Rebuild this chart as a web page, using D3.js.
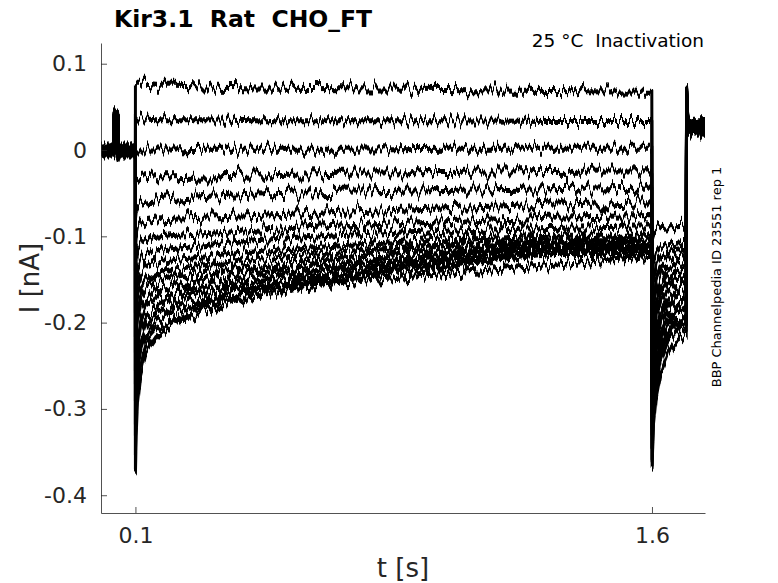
<!DOCTYPE html>
<html>
<head>
<meta charset="utf-8">
<script src="https://cdn.jsdelivr.net/npm/d3@7"></script>
<style>
  body { margin: 0; background: #fff; }
  svg { display: block; font-family: "DejaVu Sans", sans-serif; }
</style>
</head>
<body>
<svg id="chart" width="778" height="583"></svg>
<script>
/* holding segment, same for every sweep (s, nA) */
var preT = [0, 0.038, 0.0385, 0.049, 0.0495, 0.053, 0.0999];
var preI = [0, 0, 0.041, 0.039, -0.006, 0, 0];

/* conditioning step, 18 sweeps */
var stepT = [0.1, 0.102, 0.106, 0.115, 0.13, 0.16, 0.21, 0.3, 0.45, 0.7, 1.0, 1.3, 1.5995];
var sweepStep = [
  [ 0.076,  0.075,  0.075,  0.075,  0.075,  0.074,  0.074,  0.073,  0.072,  0.071,  0.070,  0.069,  0.068],
  [ 0.036,  0.036,  0.036,  0.036,  0.036,  0.035,  0.035,  0.035,  0.034,  0.034,  0.034,  0.033,  0.033],
  [ 0.000,  0.000,  0.000,  0.000,  0.000,  0.000,  0.000,  0.001,  0.001,  0.001,  0.002,  0.002,  0.002],
  [-0.036, -0.035, -0.034, -0.033, -0.032, -0.031, -0.031, -0.030, -0.029, -0.027, -0.026, -0.025, -0.024],
  [-0.075, -0.068, -0.064, -0.061, -0.059, -0.058, -0.056, -0.054, -0.051, -0.049, -0.047, -0.045, -0.043],
  [-0.110, -0.098, -0.090, -0.085, -0.082, -0.080, -0.079, -0.078, -0.076, -0.072, -0.068, -0.064, -0.061],
  [-0.140, -0.125, -0.115, -0.108, -0.104, -0.101, -0.099, -0.097, -0.093, -0.088, -0.083, -0.079, -0.077],
  [-0.170, -0.150, -0.137, -0.127, -0.121, -0.117, -0.114, -0.111, -0.105, -0.099, -0.094, -0.091, -0.089],
  [-0.190, -0.170, -0.155, -0.143, -0.135, -0.130, -0.127, -0.124, -0.118, -0.111, -0.104, -0.100, -0.100],
  [-0.210, -0.188, -0.170, -0.157, -0.148, -0.142, -0.138, -0.133, -0.127, -0.118, -0.109, -0.104, -0.104],
  [-0.230, -0.205, -0.185, -0.170, -0.160, -0.153, -0.148, -0.142, -0.135, -0.125, -0.114, -0.107, -0.107],
  [-0.250, -0.222, -0.200, -0.183, -0.171, -0.163, -0.157, -0.150, -0.142, -0.131, -0.119, -0.110, -0.110],
  [-0.270, -0.240, -0.215, -0.196, -0.182, -0.173, -0.166, -0.157, -0.148, -0.136, -0.123, -0.112, -0.112],
  [-0.290, -0.258, -0.230, -0.209, -0.193, -0.182, -0.174, -0.164, -0.154, -0.140, -0.126, -0.114, -0.114],
  [-0.310, -0.275, -0.245, -0.221, -0.204, -0.192, -0.182, -0.171, -0.159, -0.143, -0.129, -0.116, -0.116],
  [-0.330, -0.292, -0.259, -0.233, -0.214, -0.201, -0.190, -0.177, -0.164, -0.146, -0.132, -0.118, -0.118],
  [-0.350, -0.310, -0.273, -0.245, -0.224, -0.210, -0.197, -0.182, -0.168, -0.149, -0.135, -0.120, -0.120],
  [-0.370, -0.330, -0.290, -0.258, -0.234, -0.216, -0.200, -0.185, -0.163, -0.153, -0.143, -0.134, -0.123]
];

/* test step after 1.6 s */
var tailT = [1.6005, 1.604, 1.612, 1.625, 1.645, 1.67, 1.6995];
var sweepTail = [
  [-0.100, -0.095, -0.092, -0.090, -0.089, -0.089, -0.088],
  [-0.150, -0.128, -0.118, -0.113, -0.110, -0.108, -0.107],
  [-0.180, -0.150, -0.133, -0.124, -0.119, -0.116, -0.115],
  [-0.205, -0.170, -0.148, -0.135, -0.128, -0.124, -0.122],
  [-0.225, -0.187, -0.161, -0.146, -0.137, -0.132, -0.130],
  [-0.245, -0.203, -0.174, -0.157, -0.146, -0.140, -0.138],
  [-0.260, -0.217, -0.186, -0.167, -0.155, -0.148, -0.146],
  [-0.275, -0.230, -0.197, -0.177, -0.164, -0.156, -0.153],
  [-0.290, -0.243, -0.208, -0.186, -0.172, -0.163, -0.160],
  [-0.300, -0.254, -0.218, -0.195, -0.180, -0.170, -0.167],
  [-0.310, -0.264, -0.227, -0.203, -0.187, -0.177, -0.173],
  [-0.320, -0.273, -0.236, -0.211, -0.194, -0.183, -0.179],
  [-0.330, -0.282, -0.244, -0.218, -0.200, -0.189, -0.185],
  [-0.338, -0.290, -0.252, -0.225, -0.206, -0.195, -0.191],
  [-0.346, -0.298, -0.259, -0.231, -0.212, -0.200, -0.196],
  [-0.354, -0.305, -0.266, -0.237, -0.217, -0.205, -0.201],
  [-0.362, -0.312, -0.272, -0.243, -0.222, -0.210, -0.206],
  [-0.370, -0.318, -0.285, -0.257, -0.236, -0.222, -0.214]
];

/* back to holding */
var postT = [1.7005, 1.702, 1.706, 1.754];
var postPeak = [0.066, 0.045];
var postLevel = [0.034, 0.032, 0.031, 0.030, 0.029, 0.028, 0.027, 0.027, 0.026,
                 0.025, 0.025, 0.024, 0.024, 0.023, 0.023, 0.022, 0.022, 0.021];

var yTicks = [-0.4, -0.3, -0.2, -0.1, 0, 0.1];
var xTicks = [0.1, 1.6];

var W = 778, H = 583;
var box = { left: 101, top: 43, right: 705, bottom: 513 };
var ink = '#262626';

var svg = d3.select('#chart');
var x = d3.scaleLinear().domain([0, 1.754]).range([box.left, box.right]);
var y = d3.scaleLinear().domain([-0.4206, 0.124]).range([box.bottom, box.top]);

function sweepPoints(i) {
    var pts = [];
    preT.forEach(function (t, k) { pts.push([t, preI[k]]); });
    stepT.forEach(function (t, k) { pts.push([t, sweepStep[i][k]]); });
    tailT.forEach(function (t, k) { pts.push([t, sweepTail[i][k]]); });
    pts.push([postT[0], postPeak[0]]);
    pts.push([postT[1], postPeak[1]]);
    pts.push([postT[2], postLevel[i]]);
    pts.push([postT[3], postLevel[i]]);
    return pts;
}

/* recording noise as a filter, one seed per sweep (vertical shift only) */
var defs = svg.append('defs');
sweepStep.forEach(function (d, i) {
    var f = defs.append('filter')
        .attr('id', 'noise' + i)
        .attr('filterUnits', 'userSpaceOnUse')
        .attr('x', 0).attr('y', 0).attr('width', W).attr('height', H)
        .attr('color-interpolation-filters', 'sRGB');
    f.append('feTurbulence')
        .attr('type', 'fractalNoise')
        .attr('baseFrequency', '0.3 0.008')
        .attr('numOctaves', 2)
        .attr('seed', i * 7 + 3)
        .attr('result', 'turb');
    f.append('feColorMatrix')
        .attr('in', 'turb')
        .attr('type', 'matrix')
        .attr('values', '0 0 0 0 0.5  0 1 0 0 0  0 0 1 0 0  0 0 0 0 1')
        .attr('result', 'map');
    f.append('feDisplacementMap')
        .attr('in', 'SourceGraphic')
        .attr('in2', 'map')
        .attr('scale', 24)
        .attr('xChannelSelector', 'R')
        .attr('yChannelSelector', 'G')
        .attr('result', 'moved');
    f.append('feMorphology')
        .attr('in', 'moved')
        .attr('operator', 'dilate')
        .attr('radius', '0 1');
});

var line = d3.line()
    .x(function (d) { return x(d[0]); })
    .y(function (d) { return y(d[1]); });

svg.append('g').attr('class', 'traces')
    .selectAll('path')
    .data(sweepStep.map(function (d, i) { return sweepPoints(i); }))
    .enter()
    .append('path')
    .attr('d', line)
    .attr('fill', 'none')
    .attr('stroke', '#000')
    .attr('stroke-width', 3)
    .attr('stroke-linejoin', 'round')
    .attr('filter', function (d, i) { return 'url(#noise' + i + ')'; });

/* axes: left and bottom only, ticks pointing in */
function tickLabel(d) {
    return d === 0 ? '0' : d.toFixed(1);
}
var yAxis = d3.axisLeft(y).tickValues(yTicks).tickSizeInner(-6).tickSizeOuter(0).tickPadding(14)
    .tickFormat(tickLabel);
var xAxis = d3.axisBottom(x).tickValues(xTicks).tickSizeInner(-6).tickSizeOuter(0).tickPadding(14)
    .tickFormat(tickLabel);

var gy = svg.append('g').attr('transform', 'translate(' + box.left + ',0)').call(yAxis);
var gx = svg.append('g').attr('transform', 'translate(0,' + box.bottom + ')').call(xAxis);

[gx, gy].forEach(function (g) {
    g.select('.domain').attr('stroke', ink).attr('stroke-width', 0.8);
    g.selectAll('.tick line').attr('stroke', ink).attr('stroke-width', 0.8);
    g.selectAll('.tick text')
        .attr('fill', ink)
        .attr('font-size', 22)
        .attr('font-family', '"DejaVu Sans", sans-serif');
});

/* titles */
svg.append('text')
    .attr('x', 114).attr('y', 27)
    .attr('font-size', 23.5).attr('font-weight', 'bold')
    .attr('fill', '#000')
    .style('white-space', 'pre')
    .text('Kir3.1  Rat  CHO_FT');

svg.append('text')
    .attr('x', 704).attr('y', 47)
    .attr('text-anchor', 'end')
    .attr('font-size', 18.5)
    .attr('fill', '#000')
    .style('white-space', 'pre')
    .text('25 °C  Inactivation');

svg.append('text')
    .attr('transform', 'translate(721,277) rotate(-90)')
    .attr('text-anchor', 'middle')
    .attr('font-size', 13)
    .attr('fill', '#000')
    .text('BBP Channelpedia ID 23551 rep 1');

svg.append('text')
    .attr('transform', 'translate(39,278) rotate(-90)')
    .attr('text-anchor', 'middle')
    .attr('font-size', 26)
    .attr('fill', ink)
    .text('I [nA]');

svg.append('text')
    .attr('x', 403).attr('y', 577)
    .attr('text-anchor', 'middle')
    .attr('font-size', 26)
    .attr('fill', ink)
    .text('t [s]');
</script>
</body>
</html>
